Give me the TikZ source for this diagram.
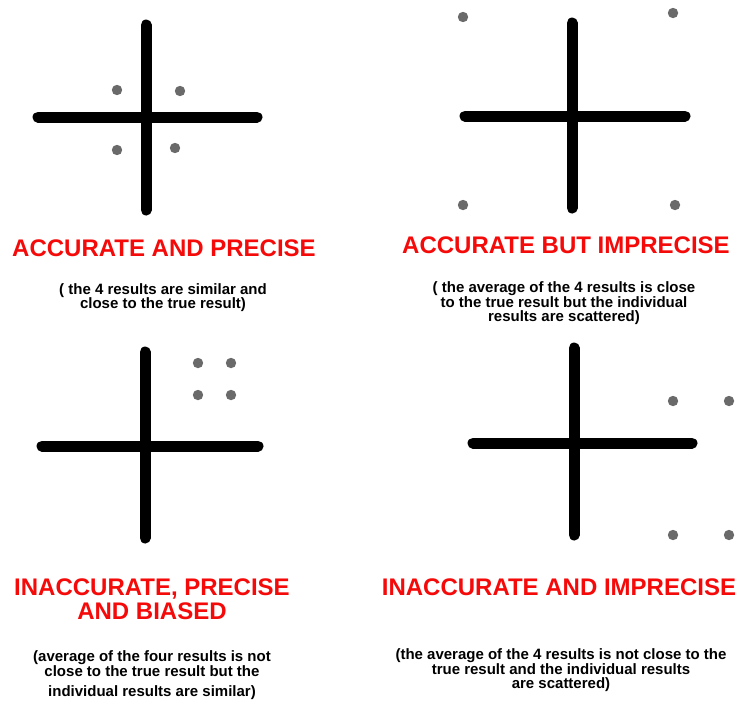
\documentclass[tikz,border=0pt]{standalone}
\usepackage{fontspec}
\setmainfont{Liberation Sans}
\definecolor{alarm}{HTML}{F50A0A}
\definecolor{shotgrey}{HTML}{6A6A6A}
\tikzset{
  hair/.style={line width=11pt,line cap=round,black},
  shot/.style={fill=shotgrey},
  verdict/.style={font=\bfseries\fontsize{24}{24}\selectfont,text=alarm,align=center,inner sep=0pt},
  explain/.style={font=\bfseries\fontsize{15}{14}\selectfont,align=center,inner sep=0pt}
}

\begin{document}
\begin{tikzpicture}[x=1pt,y=-1pt]
  \useasboundingbox (0,0) rectangle (741,702);
  % accurate and precise
  \draw[hair] (146,25) -- (146,210);
  \draw[hair] (38,117) -- (257,117);
  \foreach \p in {(117,90),(180,91),(117,150),(175,148)}
    \fill[shot] \p circle (5.2pt);
  \node[verdict] (ap) at (164,248) {ACCURATE AND PRECISE};
  \node[explain] (apnote) at (163,298) {( the 4 results are similar and\\close to the true result)};
  % accurate but imprecise
  \draw[hair] (572,23) -- (572,208);
  \draw[hair] (465,116) -- (685,116);
  \foreach \p in {(463,17),(673,13),(463,205),(675,205)}
    \fill[shot] \p circle (5.2pt);
  \node[verdict] (ai) at (566,245) {ACCURATE BUT IMPRECISE};
  \node[explain] (ainote) at (564,303) {( the average of the 4 results is close\\to the true result but the individual\\results are scattered)};
  % inaccurate, precise and biased
  \draw[hair] (145,352) -- (145,538);
  \draw[hair] (42,446) -- (258,446);
  \foreach \p in {(198,363),(231,363),(198,395),(231,395)}
    \fill[shot] \p circle (5.2pt);
  \node[verdict] (ipb) at (152,599) {INACCURATE, PRECISE\\AND BIASED};
  \node[explain] (ipbnote) at (152,675) {(average of the four results is not\\close to the true result but the\\[6pt]individual results are similar)};
  % inaccurate and imprecise
  \draw[hair] (574,348) -- (574,535);
  \draw[hair] (473,443) -- (692,443);
  \foreach \p in {(673,401),(729,401),(673,535),(729,535)}
    \fill[shot] \p circle (5.2pt);
  \node[verdict] (ii) at (559,587) {INACCURATE AND IMPRECISE};
  \node[explain] (iinote) at (561,670) {(the average of the 4 results is not close to the\\true result and the individual results\\are scattered)};
\end{tikzpicture}
\end{document}
